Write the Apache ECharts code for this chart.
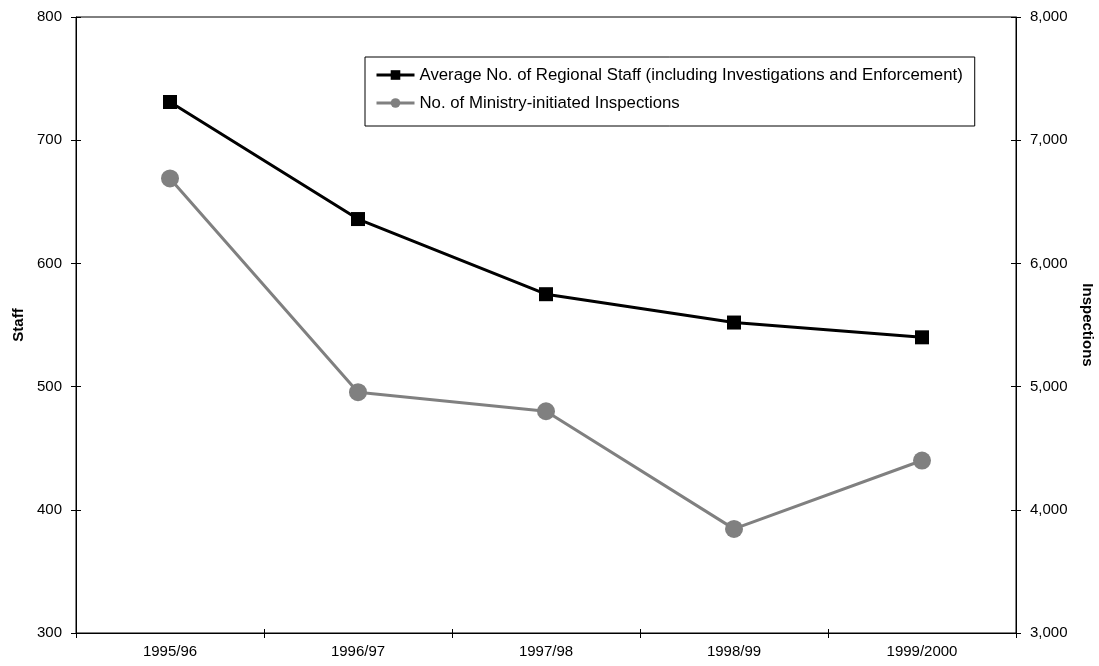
<!DOCTYPE html>
<html>
<head>
<meta charset="utf-8">
<script src="https://cdn.jsdelivr.net/npm/echarts@6/dist/echarts.min.js"></script>
<style>
html,body{margin:0;padding:0;background:#fff;overflow:hidden;}
#chart{width:1099px;height:666px;}
</style>
</head>
<body>
<div id="chart"></div>
<script>
const categories = ['1995/96', '1996/97', '1997/98', '1998/99', '1999/2000'];
const staffValues = [731, 636, 575, 552, 540];
const inspectionValues = [6690, 4955, 4800, 3845, 4400];
const staffTicks = { min: 300, max: 800, interval: 100 };
const inspTicks = { min: 3000, max: 8000, interval: 1000 };
const staffName = 'Average No. of Regional Staff (including Investigations and Enforcement)';
const inspName = 'No. of Ministry-initiated Inspections';

const FONT = '"Liberation Sans", Arial, sans-serif';
const chart = echarts.init(document.getElementById('chart'));
const fmt = v => v.toLocaleString('en-US');

chart.setOption({
  backgroundColor: '#fff',
  animation: false,
  textStyle: { fontFamily: FONT, color: '#000' },
  grid: { left: 76, right: 83, top: 17, bottom: 33, containLabel: false, outerBoundsMode: 'none', show: true, borderColor: '#000', borderWidth: 1, backgroundColor: 'transparent' },
  legend: {
    orient: 'vertical', left: 365, top: 57,
    borderColor: '#000', borderWidth: 1,
    padding: [8, 12, 13, 10],
    itemWidth: 38, itemHeight: 12, itemGap: 8,
    lineStyle: { width: 3 },
    textStyle: { fontFamily: FONT, fontSize: 16.8, lineHeight: 20, color: '#000' },
    data: [staffName, inspName]
  },
  xAxis: [{
    type: 'category', data: categories, boundaryGap: true,
    axisLine: { lineStyle: { color: '#000', width: 1 } },
    axisTick: { show: true, length: 5, lineStyle: { color: '#000' } },
    axisLabel: { fontFamily: FONT, fontSize: 15, color: '#000', margin: 11 },
    splitLine: { show: false }
  }, {
    type: 'category', data: categories, boundaryGap: true, position: 'bottom',
    axisLine: { show: false },
    axisTick: { show: true, inside: true, length: 4, lineStyle: { color: '#000' } },
    axisLabel: { show: false }, splitLine: { show: false }
  }],
  yAxis: [{
    type: 'value', position: 'left', min: staffTicks.min, max: staffTicks.max, interval: staffTicks.interval,
    name: 'Staff', nameLocation: 'middle', nameGap: 50, nameRotate: 90,
    nameTextStyle: { fontFamily: FONT, fontSize: 15, fontWeight: 'bold', color: '#000' },
    axisLine: { show: true, lineStyle: { color: '#000' } },
    axisTick: { show: true, length: 5, lineStyle: { color: '#000' } },
    axisLabel: { fontFamily: FONT, fontSize: 15, color: '#000', margin: 14 },
    splitLine: { show: false }
  }, {
    type: 'value', position: 'right', min: inspTicks.min, max: inspTicks.max, interval: inspTicks.interval,
    name: 'Inspections', nameLocation: 'middle', nameGap: 64, nameRotate: -90,
    nameTextStyle: { fontFamily: FONT, fontSize: 15, fontWeight: 'bold', color: '#000' },
    axisLine: { show: true, lineStyle: { color: '#000' } },
    axisTick: { show: true, length: 5, lineStyle: { color: '#000' } },
    axisLabel: { fontFamily: FONT, fontSize: 15, color: '#000', margin: 14, formatter: fmt },
    splitLine: { show: false }
  }, {
    type: 'value', position: 'left', min: staffTicks.min, max: staffTicks.max, interval: staffTicks.interval,
    axisLine: { show: false }, axisLabel: { show: false }, splitLine: { show: false },
    axisTick: { show: true, inside: true, length: 5, lineStyle: { color: '#000' } }
  }, {
    type: 'value', position: 'right', min: inspTicks.min, max: inspTicks.max, interval: inspTicks.interval,
    axisLine: { show: false }, axisLabel: { show: false }, splitLine: { show: false },
    axisTick: { show: true, inside: true, length: 5, lineStyle: { color: '#000' } }
  }],
  series: [{
    name: staffName, type: 'line', xAxisIndex: 0, yAxisIndex: 0, data: staffValues,
    symbol: 'rect', symbolSize: 14,
    lineStyle: { color: '#000', width: 3 },
    itemStyle: { color: '#000' }
  }, {
    name: inspName, type: 'line', xAxisIndex: 0, yAxisIndex: 1, data: inspectionValues,
    symbol: 'circle', symbolSize: 18,
    lineStyle: { color: '#808080', width: 3 },
    itemStyle: { color: '#808080' }
  }]
});
</script>
</body>
</html>
